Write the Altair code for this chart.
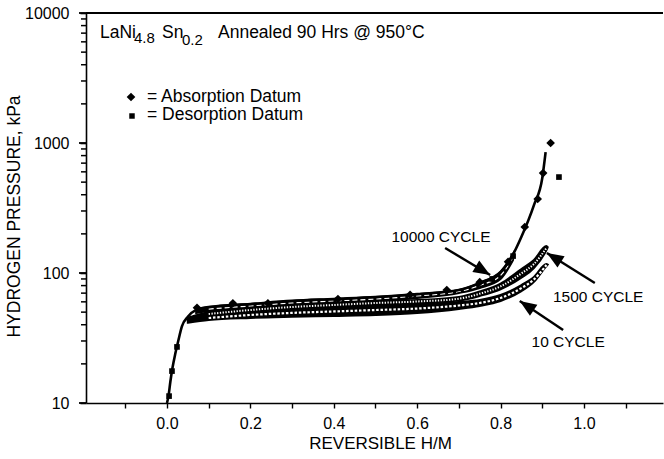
import altair as alt
import numpy as np
import pandas as pd

# ---- LaNi4.8Sn0.2 isotherms: reversible H/M vs hydrogen pressure (kPa) ----
# 10000-cycle absorption isotherm (solid curve)
iso_x = [0.0, 0.004, 0.008, 0.013, 0.02, 0.027, 0.036, 0.05, 0.07, 0.1, 0.2, 0.3,
         0.4, 0.5, 0.6, 0.7, 0.75, 0.8, 0.82, 0.85, 0.88, 0.9, 0.908]
iso_p = [10, 11.5, 14.5, 18.5, 24, 30, 39, 46, 52, 54.7, 57.8, 61,
         63.1, 65.3, 68.9, 74, 84, 102, 122, 190, 333, 538, 850]

# hysteresis loops: upper branch = absorption, lower branch = desorption
loop10000_x = [0.07, 0.1, 0.2, 0.3, 0.4, 0.5, 0.6, 0.7, 0.75, 0.8, 0.83]
loop10000_hi = [52, 54.7, 57.8, 61, 63.1, 65.3, 68.9, 74, 84, 102, 141]
loop10000_lo = [49.2, 51.0, 53.8, 56.7, 58.8, 60.9, 64.2, 70.2, 76.7, 89.9, 126]

loop_x = [0.05, 0.1, 0.2, 0.3, 0.4, 0.5, 0.6, 0.7, 0.75, 0.8, 0.85, 0.88, 0.91, 0.913]
loop1500_hi = [45.1, 50.1, 53.8, 56.7, 58.8, 60.9, 62.0, 65.4, 72.0, 83.0, 107.3, 125.9, 161.3, 158]
loop1500_lo = [43.5, 46.7, 50.1, 52.9, 54.8, 56.7, 58.8, 61.5, 66.6, 75.0, 92.0, 109.3, 150.3, 158]
loop10_hi = [43.5, 46.7, 50.1, 52.9, 54.8, 56.7, 57.7, 59.8, 62.0, 67.7, 80.8, 93.2, 117.3, 116]
loop10_lo = [41.5, 43.5, 45.1, 46.0, 46.7, 47.5, 49.2, 52.9, 55.8, 60.9, 72.5, 85.5, 113.2, 116]

# measured data
absorb_x = [0.072, 0.158, 0.242, 0.41, 0.583, 0.671, 0.75, 0.818, 0.858, 0.889, 0.902, 0.92]
absorb_p = [54, 58.5, 58.5, 63, 68, 74, 85, 122, 226, 371, 587, 1000]
desorb_x = [0.005, 0.012, 0.024, 0.78, 0.83, 0.94]
desorb_p = [11.3, 17.6, 27, 90, 135, 547]

# cycle annotations
cycle_labels = ["10000 CYCLE", "1500 CYCLE", "10 CYCLE"]
cycle_label_x = [0.657, 1.034, 0.962]
cycle_label_p = [173.2, 59.8, 27.0]
arrow_tail_x = [0.667, 1.026, 0.95]
arrow_tail_p = [155.7, 83.8, 36.4]
arrow_tip_x = [0.775, 0.911, 0.846]
arrow_tip_p = [96.6, 142.6, 60.9]

# axis ticks
x_ticks = [-0.1, 0.0, 0.1, 0.2, 0.3, 0.4, 0.5, 0.6, 0.7, 0.8, 0.9, 1.0, 1.1]
y_major = [10, 100, 1000, 10000]
y_minor = [m * d for d in (10, 100, 1000) for m in range(2, 10)]

# ---- layout ----
W, H = 577, 390
XMIN, XMAX = -0.1942, 1.1895
FONT = "Liberation Sans"

xscale = alt.Scale(domain=[XMIN, XMAX], nice=False, zero=False)
yscale = alt.Scale(type="log", domain=[10, 10000], nice=False)

xaxis = alt.Axis(
    values=x_ticks,
    labelExpr="(abs(datum.value*5 - round(datum.value*5)) < 0.001 && datum.value > -0.01) ? format(datum.value, '.1f') : ''",
    tickSize=5,
    labelPadding=7, labelFontSize=16, labelFont=FONT, labelColor="black",
    labelOverlap=False, labelBound=False, labelFlush=False,
    title="REVERSIBLE H/M", titleFont=FONT, titleFontSize=17, titleFontWeight="normal",
    titleColor="black", titleX=294, titleY=40, titleBaseline="middle", titleAlign="center",
    domainColor="black", domainWidth=1.6, tickColor="black", tickWidth=1.4, grid=False,
)
yaxis = alt.Axis(
    values=y_major,
    labelExpr="format(datum.value, 'd')",
    tickSize=6,
    labelPadding=11, labelFontSize=16, labelFont=FONT, labelColor="black",
    labelOverlap=False, labelBound=False, labelFlush=False,
    title="HYDROGEN PRESSURE, kPa", titleFont=FONT, titleFontSize=17.5, titleFontWeight="normal",
    titleColor="black", titleX=-72, titleY=203, titleBaseline="middle", titleAlign="center",
    titleAngle=270,
    domainColor="black", domainWidth=1.6, tickColor="black", tickWidth=1.6, grid=False,
)

X = alt.X("x:Q", scale=xscale, axis=xaxis)
Y = alt.Y("p:Q", scale=yscale, axis=yaxis)

# ---- frames ----
iso_df = pd.DataFrame({"x": iso_x, "p": iso_p})


def loop_frame(xs, hi, lo):
    return pd.DataFrame({"x": xs, "p": hi, "p2": lo})


def mid_frame(xs, hi, lo):
    xs = np.asarray(xs, float)
    mid = np.sqrt(np.asarray(hi, float) * np.asarray(lo, float))
    keep = (xs >= 0.1) & (np.asarray(hi) != np.asarray(lo))
    return pd.DataFrame({"x": xs[keep], "p": mid[keep]})


loops = [
    (loop_x, loop10_hi, loop10_lo, [2.5, 1.8], 2.2),
    (loop_x, loop1500_hi, loop1500_lo, [1.3, 1.5], 2.0),
    (loop10000_x, loop10000_hi, loop10000_lo, [5, 3], 1.2),
]

layers = []

# log-axis tick marks on the left edge (major and minor decades)
layers.append(
    alt.Chart(pd.DataFrame({"p": y_major})).mark_rule(color="black", strokeWidth=1.8).encode(
        x=alt.value(-7), x2=alt.value(0), y=Y
    )
)
layers.append(
    alt.Chart(pd.DataFrame({"p": y_minor})).mark_rule(color="black", strokeWidth=1.5).encode(
        x=alt.value(-5), x2=alt.value(0), y=Y
    )
)

for xs, hi, lo, dash, w in loops:
    layers.append(
        alt.Chart(loop_frame(xs, hi, lo)).mark_area(
            color="black", stroke="black", strokeWidth=2.0, interpolate="monotone"
        ).encode(x=X, y=Y, y2="p2:Q")
    )
for xs, hi, lo, dash, w in loops:
    layers.append(
        alt.Chart(mid_frame(xs, hi, lo)).mark_line(
            color="white", strokeWidth=w, strokeDash=dash, interpolate="monotone"
        ).encode(x=X, y=Y)
    )

layers.append(
    alt.Chart(iso_df).mark_line(color="black", strokeWidth=2.6, interpolate="monotone").encode(x=X, y=Y)
)
layers.append(
    alt.Chart(pd.DataFrame({"x": absorb_x, "p": absorb_p})).mark_point(
        shape="diamond", filled=True, color="black", size=75, opacity=1
    ).encode(x=X, y=Y)
)
layers.append(
    alt.Chart(pd.DataFrame({"x": desorb_x, "p": desorb_p})).mark_point(
        shape="square", filled=True, color="black", size=32, opacity=1
    ).encode(x=X, y=Y)
)

# ---- arrows ----
px_x = W / (XMAX - XMIN)
px_dec = H / 3.0
tx = np.array(arrow_tail_x) * px_x
ty = -np.log10(arrow_tail_p) * px_dec
hx = np.array(arrow_tip_x) * px_x
hy = -np.log10(arrow_tip_p) * px_dec
dx, dy = hx - tx, hy - ty
L = np.hypot(dx, dy)
ux, uy = dx / L, dy / L
head_size = 280
head_r = np.sqrt(head_size) / 2
cx, cy = hx - ux * head_r, hy - uy * head_r
arrow_df = pd.DataFrame({
    "x": arrow_tail_x, "p": arrow_tail_p,
    "x2": arrow_tip_x, "p2": arrow_tip_p,
})
head_df = pd.DataFrame({
    "x": cx / px_x, "p": 10 ** (-cy / px_dec),
    "ang": np.degrees(np.arctan2(ux, -uy)) % 360,
})
layers.append(
    alt.Chart(arrow_df).mark_rule(color="black", strokeWidth=2.4).encode(
        x=X, y=Y, x2="x2:Q", y2="p2:Q"
    )
)
layers.append(
    alt.Chart(head_df).mark_point(
        shape="M0,-1L0.8,1L-0.8,1Z", filled=True, color="black", size=head_size, opacity=1
    ).encode(x=X, y=Y, angle=alt.Angle("ang:Q", scale=None))
)

# ---- cycle labels ----
layers.append(
    alt.Chart(pd.DataFrame({"x": cycle_label_x, "p": cycle_label_p, "t": cycle_labels})).mark_text(
        font=FONT, fontSize=15.5, color="black", align="center", baseline="alphabetic"
    ).encode(x=X, y=Y, text="t:N")
)

# ---- title, composition and legend text (pixel placement inside the plot) ----
one = pd.DataFrame({"k": [0]})


def label(txt, px, py, size, align="left"):
    return alt.Chart(one).mark_text(
        text=txt, font=FONT, fontSize=size, color="black", align=align, baseline="alphabetic"
    ).encode(x=alt.value(px), y=alt.value(py))


layers += [
    label("LaNi", 14, 25, 17.5),
    label("4.8", 48, 30, 15),
    label("Sn", 76, 25, 17.5),
    label("0.2", 96, 32, 15),
    label("Annealed 90 Hrs @ 950\u00b0C", 132, 25, 17.5),
    label("= Absorption Datum", 61, 89, 17.5),
    label("= Desorption Datum", 61, 107, 17.5),
]
layers.append(
    alt.Chart(one).mark_point(shape="diamond", filled=True, color="black", size=75, opacity=1).encode(
        x=alt.value(45), y=alt.value(84)
    )
)
layers.append(
    alt.Chart(one).mark_point(shape="square", filled=True, color="black", size=30, opacity=1).encode(
        x=alt.value(46), y=alt.value(103)
    )
)
# top frame line
layers.append(
    alt.Chart(one).mark_rule(color="black", strokeWidth=2).encode(
        x=alt.value(0), x2=alt.value(W), y=alt.value(0)
    )
)

chart = alt.layer(*layers).properties(
    width=W, height=H,
    padding={"left": 86, "top": 13, "right": 1, "bottom": 56},
    autosize=alt.AutoSizeParams(type="none"),
    background="white",
).configure_view(stroke=None)

chart.save("out.html", embed_options={"renderer": "svg", "actions": False})
